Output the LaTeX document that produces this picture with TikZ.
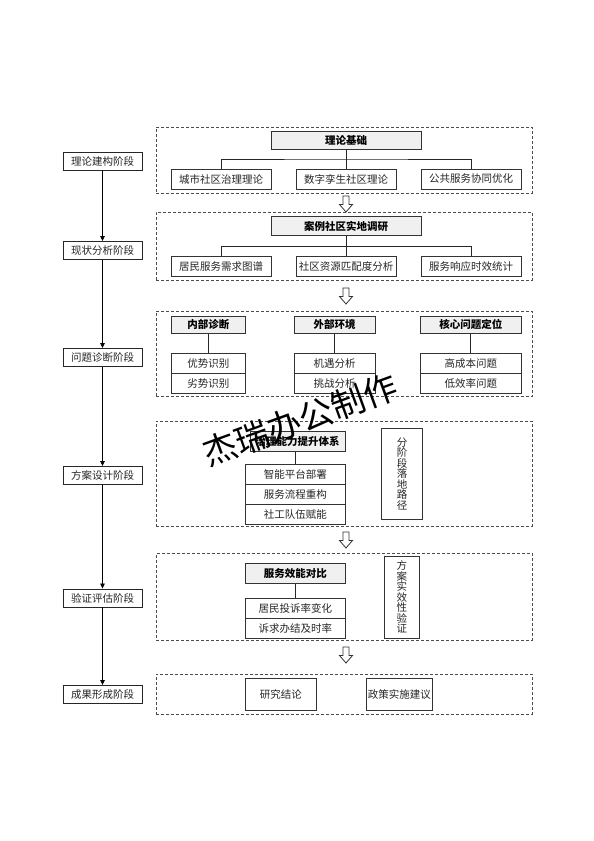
\documentclass[tikz,border=0pt]{standalone}
\usepackage{fontspec}
\setmainfont{Noto Sans CJK SC}
\usetikzlibrary{arrows.meta,calc}
\tikzset{
  pics/hol/.style={code={
    \draw[line width=0.8pt, draw=black!80, fill=white]
      (-3,0) -- (3,0) -- (3,8.5) -- (6.5,8.5) -- (0,16) -- (-6.5,8.5) -- (-3,8.5) -- cycle;}}
}
\begin{document}
\begin{tikzpicture}[x=1pt,y=-1pt,
  every node/.style={font=\fontsize{10.5}{12}\selectfont, inner sep=0pt, text=black!85},
  stage/.style={draw=black!85, line width=0.9pt, minimum width=79pt, minimum height=18pt, fill=white},
  grp/.style={draw=black!70, dash pattern=on 3pt off 2pt, line width=0.9pt},
  hdr/.style={draw=black!80, line width=0.8pt, fill=gray!12, font=\fontsize{10.5}{12}\selectfont\bfseries, text=black},
  itm/.style={draw=black!80, line width=0.8pt},
  vbox/.style={draw=black!80, line width=0.8pt, align=center, font=\fontsize{10.5}{10.5}\selectfont},
  link/.style={draw=black!85, line width=0.7pt},
  flow/.style={draw=black, line width=0.8pt, -{Triangle[length=5pt,width=4.5pt]}},
  wm/.style={font=\fontsize{34}{34}\selectfont, rotate=20, text=black}
]
\fill[white] (0,0) rectangle (594,841);
\useasboundingbox (0,0) rectangle (594,841);

% stage column
\node[stage] (s1) at (102.5,161) {理论建构阶段};
\node[stage] (s2) at (102.5,250.5) {现状分析阶段};
\node[stage] (s3) at (102.5,357.5) {问题诊断阶段};
\node[stage] (s4) at (102.5,475.5) {方案设计阶段};
\node[stage] (s5) at (102.5,598) {验证评估阶段};
\node[stage] (s6) at (102.5,694.5) {成果形成阶段};
\foreach \a/\b in {s1/s2,s2/s3,s3/s4,s4/s5,s5/s6}
  \draw[flow] (\a.south) -- (\b.north);

% group 1
\node[grp, minimum width=376pt, minimum height=66pt] (g1) at (344,160) {};
\node[hdr, minimum width=150pt, minimum height=18pt] (h1) at (346,140) {理论基础};
\node[itm, minimum width=100pt, minimum height=20pt] (c11) at (221,179) {城市社区治理理论};
\node[itm, minimum width=100pt, minimum height=20pt] (c12) at (346,179) {数字孪生社区理论};
\node[itm, minimum width=100pt, minimum height=20pt] (c13) at (471,179) {公共服务协同优化};
\coordinate (b1) at (346,159);
\draw[link] (h1.south) -- (b1);
\draw[link] (c11.north) |- (b1) -| (c13.north);
\draw[link] (b1) -- (c12.north);

\pic at (346,196) {hol};

% group 2
\node[grp, minimum width=376pt, minimum height=68pt] (g2) at (344,246.3) {};
\node[hdr, minimum width=150pt, minimum height=19.5pt] (h2) at (346,226) {案例社区实地调研};
\node[itm, minimum width=100pt, minimum height=20pt] (c21) at (221,266.7) {居民服务需求图谱};
\node[itm, minimum width=100pt, minimum height=20pt] (c22) at (346,266.7) {社区资源匹配度分析};
\node[itm, minimum width=100pt, minimum height=20pt] (c23) at (471,266.7) {服务响应时效统计};
\coordinate (b2) at (346,246.7);
\draw[link] (h2.south) -- (b2);
\draw[link] (c21.north) |- (b2) -| (c23.north);
\draw[link] (b2) -- (c22.north);

\pic at (346,288) {hol};

% group 3
\node[grp, minimum width=376pt, minimum height=85.7pt] (g3) at (344,353.8) {};
\node[hdr, minimum width=73.3pt, minimum height=17.3pt] (h31) at (208.3,324.7) {内部诊断};
\node[hdr, minimum width=80.7pt, minimum height=17.3pt] (h32) at (334.7,324.7) {外部环境};
\node[hdr, minimum width=100.3pt, minimum height=17.3pt] (h33) at (470.8,324.7) {核心问题定位};
\node[itm, minimum width=73.3pt, minimum height=20.3pt] (a31) at (208.3,363.7) {优势识别};
\node[itm, minimum width=73.3pt, minimum height=20pt] (b31) at (208.3,383.6) {劣势识别};
\node[itm, minimum width=80.7pt, minimum height=20.3pt] (a32) at (334.7,363.7) {机遇分析};
\node[itm, minimum width=80.7pt, minimum height=20pt] (b32) at (334.7,383.6) {挑战分析};
\node[itm, minimum width=100.3pt, minimum height=20.3pt] (a33) at (470.8,363.7) {高成本问题};
\node[itm, minimum width=100.3pt, minimum height=20pt] (b33) at (470.8,383.6) {低效率问题};
\draw[link] (h31.south) -- (a31.north);
\draw[link] (h32.south) -- (a32.north);
\draw[link] (h33.south) -- (a33.north);

% group 4
\node[grp, minimum width=376pt, minimum height=105pt] (g4) at (344,473.5) {};
\node[hdr, minimum width=95pt, minimum height=20pt] (h4) at (297.5,441.7) {治理能力提升体系};
\node[itm, minimum width=99.3pt, minimum height=20.3pt] (i41) at (295.3,474.6) {智能平台部署};
\node[itm, minimum width=99.3pt, minimum height=20pt] (i42) at (295.3,494.8) {服务流程重构};
\node[itm, minimum width=99.3pt, minimum height=19.7pt] (i43) at (295.3,514.6) {社工队伍赋能};
\draw[link] (i41.north) -- (i41.north |- h4.south);
\node[vbox, minimum width=40.6pt, minimum height=90.7pt] (v4) at (402,473.7) {分\\阶\\段\\落\\地\\路\\径};

\pic at (346,532) {hol};

% group 5
\node[grp, minimum width=376pt, minimum height=86.7pt] (g5) at (344,596.7) {};
\node[hdr, minimum width=99.3pt, minimum height=20pt] (h5) at (295.3,573.3) {服务效能对比};
\node[itm, minimum width=99.3pt, minimum height=20pt] (i51) at (295.3,608.3) {居民投诉率变化};
\node[itm, minimum width=99.3pt, minimum height=20pt] (i52) at (295.3,628.3) {诉求办结及时率};
\draw[link] (i51.north) -- (i51.north |- h5.south);
\node[vbox, minimum width=35pt, minimum height=82.3pt] (v5) at (401.8,597.2) {方\\案\\实\\效\\性\\验\\证};

\pic at (346,647) {hol};

% group 6
\node[grp, minimum width=376pt, minimum height=40pt] (g6) at (344,694.3) {};
\node[itm, minimum width=70.3pt, minimum height=31.7pt] (r1) at (280.8,694.2) {研究结论};
\node[itm, minimum width=66.7pt, minimum height=31.7pt] (r2) at (399.3,694.2) {政策实施建议};

% watermark
\node[wm] (wm) at (300,420) {杰瑞办公制作};
\end{tikzpicture}
\end{document}
